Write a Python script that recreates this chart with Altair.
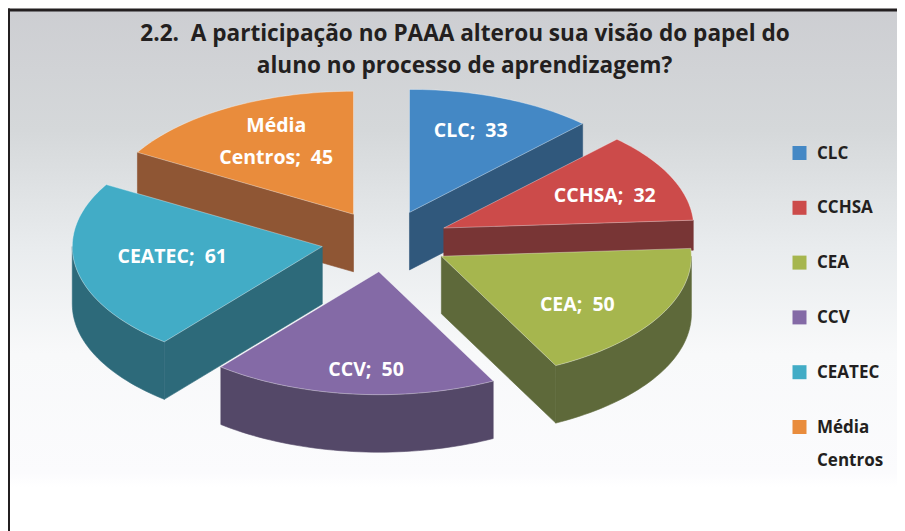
import math
import altair as alt
import pandas as pd

# --- data
categories = ["CLC", "CCHSA", "CEA", "CCV", "CEATEC", "Média Centros"]
values = [33, 32, 50, 50, 61, 45]
top_colors = ["#4488c5", "#cc4b4a", "#a6b64e", "#846aa6", "#42acc6", "#e98c3c"]
side_colors = ["#30587c", "#783535", "#5e693a", "#544868", "#2d6a7a", "#8f5634"]
NB = "\u00a0"
slice_labels = ["CLC;" + NB + NB + "33", "CCHSA;" + NB + NB + "32", "CEA;" + NB + NB + "50",
                "CCV;" + NB + NB + "50", "CEATEC;" + NB + NB + "61", "Média\nCentros;" + NB + NB + "45"]
title_lines = ["2.2." + NB + NB + "A participação no PAAA alterou sua visão do papel do",
               "aluno no processo de aprendizagem?"]
legend_labels = ["CLC", "CCHSA", "CEA", "CCV", "CEATEC", "Média\nCentros"]

# --- layout of the projected pie, in page pixels
W, H = 889, 523
OX, OY = 8, 8
CX, CY = 385.5, 241.0
RX, RY = 250.0, 123.0
EXPLODE = 0.257
DEPTHS = [57.5, 30.0, 57.5, 57.5, 57.5, 57.5]
LABEL_FX = [0.656, 0.71, 0.625, 0.49, 0.61, 0.62]
LABEL_FY = [0.71, 0.615, 0.81, 0.80, 0.47, 0.83]
FONT = "Open Sans"

x_scale = alt.Scale(domain=[OX, OX + W], range=[0, W], nice=False, zero=False)
y_scale = alt.Scale(domain=[OY + H, OY], range=[H, 0], nice=False, zero=False)
X = lambda f: alt.X(f, type="quantitative", scale=x_scale, axis=None)
Y = lambda f: alt.Y(f, type="quantitative", scale=y_scale, axis=None)


def on_ellipse(ax, ay, deg, dz=0.0):
    t = math.radians(deg)
    return ax + RX * math.sin(t), ay - RY * math.cos(t) + dz


def arc_points(ax, ay, a0, a1, dz=0.0):
    n = max(2, int(abs(a1 - a0) / 1.5))
    return [on_ellipse(ax, ay, a0 + (a1 - a0) * k / n, dz) for k in range(n + 1)]


def polygon_frame(parts):
    rows = []
    for part, pts in enumerate(parts):
        for i, (x, y) in enumerate(pts + pts[:1]):
            rows.append({"part": part, "i": i, "x": x, "y": y})
    return pd.DataFrame(rows)


total = sum(values)
layers = []

# page background and frame
bg = pd.DataFrame({"x": [9.5], "x2": [OX + W], "y": [11], "y2": [487]})
layers.append(
    alt.Chart(bg).mark_rect(
        fill=alt.Gradient(
            gradient="linear", x1=0, y1=0, x2=0, y2=1,
            stops=[
                alt.GradientStop(offset=0, color="#cdced2"),
                alt.GradientStop(offset=0.25, color="#d5d8da"),
                alt.GradientStop(offset=0.5, color="#e9ecee"),
                alt.GradientStop(offset=0.72, color="#f8f9fa"),
                alt.GradientStop(offset=0.97, color="#fbfbfd"),
                alt.GradientStop(offset=1, color="#ffffff"),
            ],
        )
    ).encode(x=X("x"), x2="x2", y=Y("y"), y2="y2")
)
frame = pd.DataFrame({"x": [8, 8], "x2": [OX + W, 10], "y": [8.5, 8.5], "y2": [11.5, 531]})
layers.append(
    alt.Chart(frame).mark_rect(fill="#231f20").encode(x=X("x"), x2="x2", y=Y("y"), y2="y2")
)

# slice geometry derived from the values
geometry = []
start = 0.0
for idx, v in enumerate(values):
    end = start + 360.0 * v / total
    mid = math.radians((start + end) / 2)
    ax = CX + EXPLODE * RX * math.sin(mid)
    ay = CY - EXPLODE * 120.0 * math.cos(mid)
    geometry.append((idx, start, end, mid, ax, ay))
    start = end

# painter's order, back to front
draw_order = [5, 0, 1, 4, 2, 3]
for idx in draw_order:
    _, a0, a1, mid, ax, ay = geometry[idx]
    depth = DEPTHS[idx]
    parts = []
    for ang, visible in ((a0, math.sin(math.radians(a0)) < -1e-6),
                         (a1, math.sin(math.radians(a1)) > 1e-6)):
        if visible:
            e = on_ellipse(ax, ay, ang)
            parts.append([(ax, ay), e, (e[0], e[1] + depth), (ax, ay + depth)])
    lo, hi = max(a0, 90.0), min(a1, 270.0)
    if lo < hi:
        parts.append(arc_points(ax, ay, lo, hi) + arc_points(ax, ay, hi, lo, depth))
    if parts:
        layers.append(
            alt.Chart(polygon_frame(parts)).mark_line(
                fill=side_colors[idx], stroke=side_colors[idx], strokeWidth=0.6
            ).encode(x=X("x"), y=Y("y"), order="i:Q", detail="part:N")
        )
    top = polygon_frame([[(ax, ay)] + arc_points(ax, ay, a0, a1)])
    layers.append(
        alt.Chart(top).mark_line(
            fill=top_colors[idx], stroke="#ffffff", strokeOpacity=0.35, strokeWidth=1
        ).encode(x=X("x"), y=Y("y"), order="i:Q", detail="part:N")
    )

# labels on the slices
rows = []
for idx, _, _, mid, ax, ay in geometry:
    rows.append({
        "x": ax + LABEL_FX[idx] * RX * math.sin(mid),
        "y": ay - LABEL_FY[idx] * RY * math.cos(mid),
        "t": slice_labels[idx],
    })
layers.append(
    alt.Chart(pd.DataFrame(rows)).mark_text(
        font=FONT, fontWeight="bold", fontSize=19.5, color="#ffffff",
        lineBreak="\n", lineHeight=32, align="center", baseline="middle",
    ).encode(x=X("x"), y=Y("y"), text="t:N")
)

# legend
LEG_Y0, LEG_STEP = 153.0, 54.8
leg = pd.DataFrame({
    "x": [799.5] * len(categories),
    "tx": [817] * len(categories),
    "y": [LEG_Y0 + i * LEG_STEP for i in range(len(categories))],
    "c": categories,
    "t": legend_labels,
})
layers.append(
    alt.Chart(leg).mark_point(shape="square", filled=True, size=196, opacity=1).encode(
        x=X("x"), y=Y("y"),
        color=alt.Color("c:N", scale=alt.Scale(domain=categories, range=top_colors), legend=None),
    )
)
layers.append(
    alt.Chart(leg).mark_text(
        font=FONT, fontWeight="bold", fontSize=17, color="#231f20", align="left",
        baseline="line-top", lineBreak="\n", lineHeight=33, dy=-15.5,
    ).encode(x=X("tx"), y=Y("y"), text="t:N")
)

# title
tt = pd.DataFrame({"x": [465, 464.5], "y": [34, 66], "t": title_lines})
layers.append(
    alt.Chart(tt).mark_text(
        font=FONT, fontWeight="bold", fontSize=22.6, color="#231f20",
        align="center", baseline="middle",
    ).encode(x=X("x"), y=Y("y"), text="t:N")
)

chart = alt.layer(*layers).properties(
    width=W, height=H, padding=0, autosize=alt.AutoSizeParams(type="none"),
    background="#ffffff",
).configure_view(stroke=None)

chart.save("out.html", embed_options={"renderer": "svg", "actions": False})
